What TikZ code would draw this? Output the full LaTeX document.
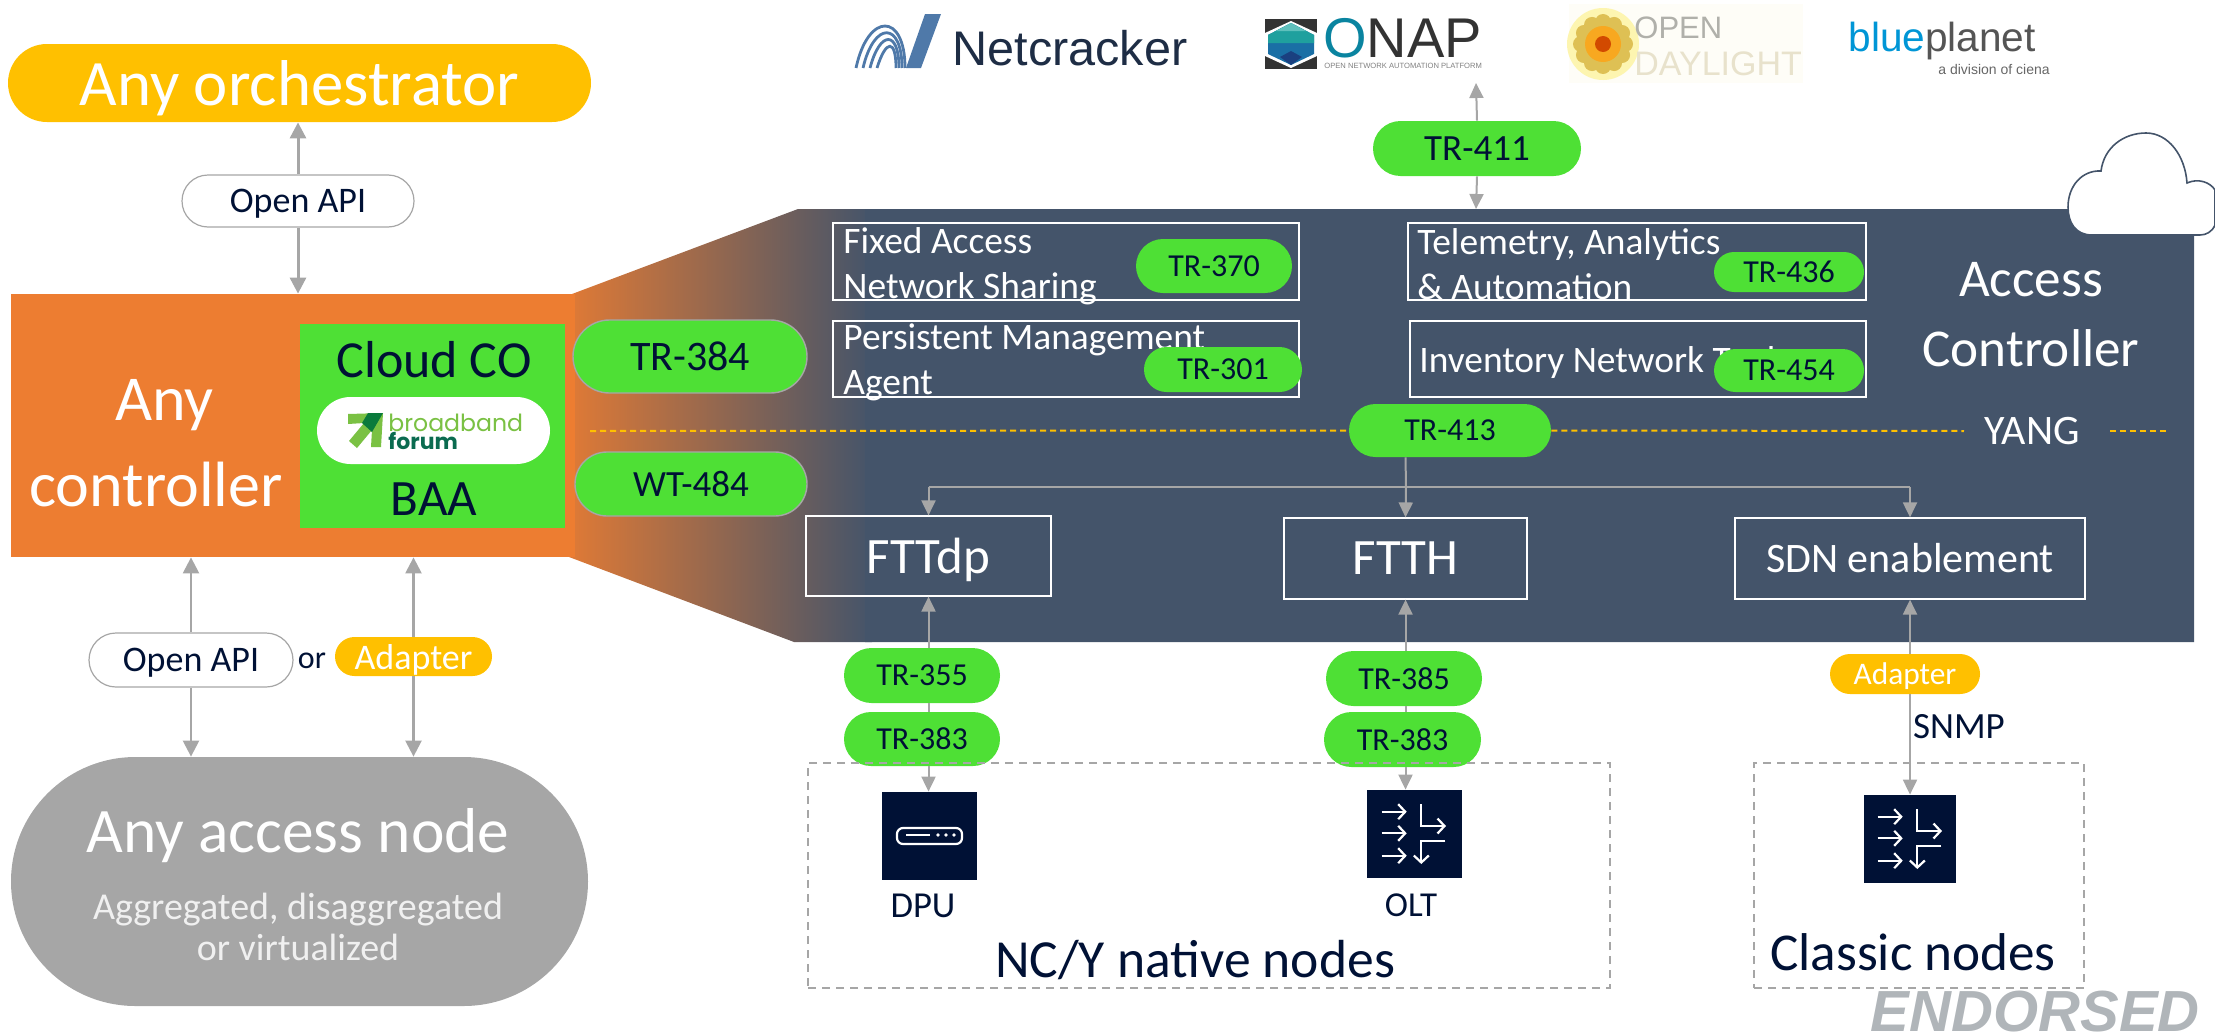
\documentclass[tikz,border=0pt]{standalone}
\usepackage{fontspec}
\setmainfont{Carlito}
\newfontfamily\libsans{Liberation Sans}
\newfontfamily\popsans{Poppins}
\usetikzlibrary{shapes.misc,arrows.meta}
\definecolor{orch}{HTML}{FFC000}
\definecolor{ctrlorange}{HTML}{ED7D31}
\definecolor{slate}{HTML}{44546A}
\definecolor{stdgreen}{HTML}{4EE035}
\definecolor{navy}{HTML}{001135}
\definecolor{midgray}{HTML}{A6A6A6}
\newcommand\fs[1]{\fontsize{#1pt}{1.2\dimexpr#1pt\relax}\selectfont}
% name, x1,y1,x2,y2, style, text
\newcommand\pillnode[7]{\node[rounded rectangle,inner sep=0pt,minimum width={(#4-#2)*0.5},minimum height={(#5-#3)*0.5},#6] (#1) at ({(#2+#4)/2},{(#3+#5)/2}) {#7};}
\newcommand\boxnode[7]{\node[rectangle,inner sep=0pt,minimum width={(#4-#2)*0.5},minimum height={(#5-#3)*0.5},#6] (#1) at ({(#2+#4)/2},{(#3+#5)/2}) {#7};}
\newcommand\routerglyph[1]{\begin{scope}[shift={#1},glyph]
\draw (14.7,21.7) -- (39.7,21.7);
\draw (14.7,43.3) -- (39.7,43.3);
\draw (14.7,65.7) -- (39.7,65.7);
\draw (54.3,14) -- (54.3,36) -- (79,36);
\draw (78.3,50.7) -- (54.3,50.7) -- (54.3,74);
\end{scope}}
\tikzset{
 conn/.style={draw=midgray,line width=1pt,>={Triangle[length=7.5pt,width=7pt]}},
 connw/.style={draw=midgray,line width=1.5pt,>={Triangle[length=8pt,width=8pt]}},
 greenpill/.style={fill=stdgreen,text=navy},
 greenline/.style={fill=stdgreen,text=navy,draw=midgray,line width=0.7pt},
 amberpill/.style={fill=orch,text=white,text depth=0pt},
 apipill/.style={fill=white,draw=midgray,line width=0.6pt,text=navy,text depth=0pt},
 subbox/.style={draw=white,line width=0.6pt},
 lightlabel/.style={text=white,inner sep=0pt},
 darklabel/.style={text=navy,inner sep=0pt},
 dashbox/.style={draw=midgray,line width=1pt,dash pattern=on 4pt off 3pt},
 yangline/.style={draw=orch,line width=1pt,dash pattern=on 3pt off 2pt},
 iconbox/.style={fill=navy},
 glyph/.style={draw=white,line width=1.1pt,->,>={Straight Barb[length=3.5pt,width=7.5pt]}},
}
\begin{document}
\begin{tikzpicture}[x=0.5pt,y=-0.5pt]
\useasboundingbox (0,0) rectangle (2215,1033);

% --- logos -----------------------------------------------------------
\begin{scope}[draw=none]
 \fill[color={rgb,255:red,79;green,121;blue,169}] (925,14) -- (941,14) -- (921,68) -- (906,68) -- cycle;
 \foreach \i in {0,1,2,3}{
  \draw[color={rgb,255:red,79;green,121;blue,169},line width=1.4pt]
   ({856+\i*7},68) .. controls ({868+\i*6},{12+\i*9}) and ({905-\i*3},{12+\i*9}) .. ({905-\i*3},68);
 }
\end{scope}
\node[inner sep=0pt,anchor=base west,text={rgb,255:red,30;green,45;blue,69},font=\libsans\fs{24.3}] (netcracker) at (952,65) {Netcracker};

\fill[color={rgb,255:red,51;green,51;blue,51}] (1265,19) rectangle (1317,69);
\fill[white] (1291,21) -- (1317,33) -- (1317,56) -- (1291,68) -- (1265,56) -- (1265,33) -- cycle;
\fill[color={rgb,255:red,26;green,111;blue,165}] (1291,23) -- (1314,35) -- (1314,54) -- (1291,65) -- (1268,54) -- (1268,35) -- cycle;
\fill[color={rgb,255:red,31;green,160;blue,158}] (1291,23) -- (1314,35) -- (1314,43) -- (1268,43) -- (1268,35) -- cycle;
\fill[color={rgb,255:red,95;green,192;blue,188}] (1291,23) -- (1306,31) -- (1276,31) -- cycle;
\fill[color={rgb,255:red,26;green,64;blue,128}] (1291,65) -- (1280,57) -- (1291,51) -- (1302,57) -- cycle;
\node[inner sep=0pt,anchor=base west,font=\libsans\fs{28},text={rgb,255:red,51;green,51;blue,51}] (onap) at (1323,57) {\textcolor[RGB]{10,132,160}{O}NAP};
\node[inner sep=0pt,anchor=base west,font=\libsans\fs{3.8},text=gray] (onaptag) at (1324,68) {OPEN NETWORK AUTOMATION PLATFORM};

\fill[color={rgb,255:red,254;green,253;blue,247}] (1569,4) rectangle (1803,83);
\fill[color={rgb,255:red,253;green,245;blue,176}] (1603,44) circle[radius=36];
\foreach \a in {0,30,...,330}{\fill[color={rgb,255:red,222;green,192;blue,84}] ({1603+22*cos(\a)},{44+22*sin(\a)}) circle[radius=8];}
\fill[color={rgb,255:red,248;green,168;blue,32}] (1603,44) circle[radius=18];
\fill[color={rgb,255:red,210;green,74;blue,0}] (1603,44) circle[radius=8];
\node[inner sep=0pt,anchor=base west,font=\libsans\fs{15.5},text={rgb,255:red,176;green,176;blue,170}] (odl1) at (1634,39) {OPEN};
\node[inner sep=0pt,anchor=base west,font=\libsans\fs{17},text={rgb,255:red,232;green,226;blue,204}] (odl2) at (1634,75) {DAYLIGHT};

\node[inner sep=0pt,anchor=base west,font=\libsans\fs{20.3},text={rgb,255:red,85;green,85;blue,85}] (blueplanet) at (1848,51) {\textcolor[RGB]{0,150,214}{blue}planet};
\node[inner sep=0pt,anchor=base west,font=\libsans\fs{7},text={rgb,255:red,102;green,102;blue,102}] (ciena) at (1938,74) {a division of ciena};

% --- access controller band with gradient --------------------------------
\begin{scope}
 \clip (572,294) -- (798,209) -- (2194,209) -- (2194,642) -- (794,642) -- (569,557) -- cycle;
 \shade[left color=ctrlorange,right color=slate] (542,200) rectangle (872,650);
 \fill[slate] (865,200) rectangle (2200,650);
\end{scope}
\boxnode{ctrl}{11}{294}{575}{557}{fill=ctrlorange}{}

% cloud
\draw[fill=white,draw=slate,line width=0.8pt] (2092,235) .. controls (2075,235) and (2068,222) .. (2068,207)
 .. controls (2068,186) and (2082,170) .. (2101,171)
 .. controls (2104,147) and (2124,133) .. (2146,133)
 .. controls (2168,133) and (2185,155) .. (2187,183)
 .. controls (2198,178) and (2210,182) .. (2215,190)
 -- (2215,225) .. controls (2212,232) and (2206,235) .. (2200,235) -- cycle;

% --- left column -------------------------------------------------------
\pillnode{orchestrator}{8}{44}{591}{122}{fill=orch,text=white,text depth=0pt,font=\fs{32.4}}{Any orchestrator}
\pillnode{apitop}{182}{175}{414}{227}{apipill,font=\fs{18}}{Open API}
\draw[connw,->] (apitop.north) -- (apitop.north |- orchestrator.south);
\draw[connw,->] (apitop.south) -- (apitop.south |- ctrl.north);

\node[lightlabel,align=center,font=\fs{32},text depth=0pt] (ctrllabel) at (156,443) {\hspace*{8.5pt}Any\\[4.5pt]controller};
\boxnode{baa}{300}{324}{565}{528}{fill=stdgreen}{}
\node[darklabel,anchor=base,font=\fs{26}] (cloudco) at (434,377) {Cloud CO};
\node[darklabel,anchor=base,font=\fs{25.5}] (baalabel) at (434,515) {BAA};
\pillnode{bbfpill}{317}{397}{550}{464}{fill=white}{}
\fill[color={rgb,255:red,122;green,193;blue,67}] (348,414) -- (383,413) -- (381,447) -- (371,447) -- (372,430) -- (357,448) -- (349,441) -- (364,423) -- (348,424) -- cycle;
\fill[color={rgb,255:red,10;green,122;blue,60}] (368,413) -- (383,413) -- (372,432) -- (362,423) -- cycle;
\node[inner sep=0pt,anchor=base west,font=\popsans\fs{11.8},text={rgb,255:red,122;green,193;blue,67}] (bbf1) at (388,431) {broadband};
\node[inner sep=0pt,anchor=base west,font=\popsans\bfseries\fs{11},text={rgb,255:red,11;green,107;blue,80}] (bbf2) at (388,449) {forum};

\pillnode{tr384}{573}{320}{807}{393}{greenline,font=\fs{21}}{TR-384}
\pillnode{wt484}{575}{452}{807}{516}{greenline,font=\fs{18.5}}{WT-484}

\pillnode{apilow}{89}{633}{293}{687}{apipill,font=\fs{18}}{Open API}
\node[darklabel,font=\fs{16}] (ortext) at (312,661) {or};
\pillnode{adapterlow}{335}{637}{492}{676}{amberpill,font=\fs{18}}{Adapter}
\pillnode{accessnode}{11}{757}{588}{1006}{fill=midgray}{}
\node[lightlabel,anchor=base,font=\fs{31.7}] (accesstitle) at (298,852) {Any access node};
\node[lightlabel,align=center,font=\fs{19},text={rgb,255:red,240;green,240;blue,240}] (accesssub) at (298,927) {Aggregated, disaggregated\\[-2pt]or virtualized};
\draw[connw,line width=1.2pt,<-] (apilow.north |- ctrl.south) -- (apilow.north);
\draw[connw,line width=1.2pt,->] (apilow.south) -- (apilow.south |- accessnode.north);
\draw[connw,line width=1.2pt,<-] (adapterlow.north |- ctrl.south) -- (adapterlow.north);
\draw[connw,line width=1.2pt,->] (adapterlow.south) -- (adapterlow.south |- accessnode.north);

% --- top standard -------------------------------------------------------
\coordinate (logoport) at (1476,83);
\coordinate (bandtop) at (1476,209);
\pillnode{tr411}{1373}{121}{1581}{176}{greenpill,font=\fs{18.5}}{TR-411}
\draw[conn,->] (tr411.north) -- (logoport);
\draw[conn,->] (tr411.south) -- (bandtop);

% --- inner boxes --------------------------------------------------------
\boxnode{fixedbox}{833}{223}{1299}{300}{subbox}{}
\node[lightlabel,align=left,anchor=west,font=\fs{18.7}] (fixedtxt) at (843,266) {Fixed Access\\[0pt]Network Sharing};
\pillnode{tr370}{1136}{239}{1292}{293}{greenpill,font=\fs{16}}{TR-370}
\boxnode{telebox}{1408}{223}{1866}{300}{subbox}{}
\node[lightlabel,align=left,anchor=west,font=\fs{18.7}] (teletxt) at (1417,264) {Telemetry, Analytics\\[0pt]\& Automation};
\pillnode{tr436}{1714}{252}{1864}{292}{greenpill,font=\fs{16}}{TR-436}
\boxnode{pmabox}{833}{321}{1299}{397}{subbox}{}
\node[lightlabel,align=left,anchor=west,font=\fs{18.7}] (pmatxt) at (843,362) {Persistent Management\\[0pt]Agent};
\pillnode{tr301}{1144}{347}{1302}{392}{greenpill,font=\fs{16}}{TR-301}
\boxnode{invbox}{1410}{321}{1866}{397}{subbox}{}
\node[lightlabel,anchor=base west,font=\fs{18.7}] (invtxt) at (1419,372) {Inventory Network Tools};
\pillnode{tr454}{1714}{349}{1864}{392}{greenpill,font=\fs{16}}{TR-454}
\node[lightlabel,align=center,font=\fs{26.6}] (aclabel) at (2031,315) {Access\\[3pt]Controller};

% --- YANG line ----------------------------------------------------------
\pillnode{tr413}{1349}{404}{1551}{457}{greenpill,font=\fs{16}}{TR-413}
\node[lightlabel,font=\fs{21}] (yang) at (2032,431) {YANG};
\coordinate (yangleft) at (590,431);
\coordinate (yangright) at (2167,431);
\draw[yangline] (yangleft) -- (tr413.west);
\draw[yangline] (tr413.east) -- ([xshift=-10pt]yang.west);
\draw[yangline] ([xshift=15pt]yang.east) -- (yangright);

% --- technology boxes ----------------------------------------------------
\boxnode{fttdp}{806}{516}{1051}{596}{subbox,text=white,text depth=0pt,font=\fs{25.5}}{FTTdp}
\boxnode{ftth}{1284}{518}{1527}{599}{subbox,text=white,font=\fs{25.5}}{FTTH}
\boxnode{sdn}{1735}{518}{2085}{599}{subbox,text=white,font=\fs{21}}{SDN enablement}
\coordinate (bus) at (1406,487);
\draw[conn] (ftth.north |- tr413.south) -- (bus);
\draw[conn] (fttdp.north |- bus) -- (sdn.north |- bus);
\draw[conn,->] (fttdp.north |- bus) -- (fttdp.north);
\draw[conn,->] (bus) -- (ftth.north);
\draw[conn,->] (sdn.north |- bus) -- (sdn.north);

% --- southbound -----------------------------------------------------------
\pillnode{tr355}{844}{648}{1000}{703}{greenpill,font=\fs{16}}{TR-355}
\pillnode{tr383a}{844}{712}{1000}{766}{greenpill,font=\fs{16}}{TR-383}
\pillnode{tr385}{1326}{651}{1482}{706}{greenpill,font=\fs{16}}{TR-385}
\pillnode{tr383b}{1324}{712}{1481}{767}{greenpill,font=\fs{16}}{TR-383}
\pillnode{adapterr}{1830}{654}{1980}{694}{amberpill,font=\fs{15.7}}{Adapter}
\node[darklabel,font=\fs{18.5}] (snmp) at (1959,727) {SNMP};

\boxnode{dpu}{882}{792}{977}{880}{iconbox}{}
\boxnode{olt}{1367}{790}{1462}{878}{iconbox}{}
\boxnode{classic}{1864}{795}{1956}{883}{iconbox}{}
\draw[white,line width=1.1pt,rounded corners=3pt] (897,828) rectangle (962,844);
\draw[white,line width=1.4pt] (906,835) -- (930,835);
\foreach \dx in {938,946,954}{\fill[white] (\dx,835) circle[radius=1.8];}
\routerglyph{(1367,790)}
\routerglyph{(1863,795)}

\draw[conn,->] (fttdp.south |- tr355.north) -- (fttdp.south);
\draw[conn] (fttdp.south |- tr355.south) -- (fttdp.south |- tr383a.north);
\draw[conn,->] (fttdp.south |- tr383a.south) -- (fttdp.south |- dpu.north);
\draw[conn,->] (ftth.south |- tr385.north) -- (ftth.south);
\draw[conn] (ftth.south |- tr385.south) -- (ftth.south |- tr383b.north);
\draw[conn,->] (ftth.south |- tr383b.south) -- (ftth.south |- olt.north);
\draw[conn,->] (sdn.south |- adapterr.north) -- (sdn.south);
\draw[conn,->] (sdn.south |- adapterr.south) -- (sdn.south |- classic.north);

\boxnode{ncybox}{808}{763}{1610}{988}{dashbox}{}
\boxnode{classicbox}{1754}{763}{2084}{988}{dashbox}{}
\node[darklabel,anchor=base,font=\fs{18.3}] (dpulabel) at (923,917) {DPU};
\node[darklabel,anchor=base,font=\fs{17.5}] (oltlabel) at (1411,916) {OLT};
\node[darklabel,anchor=base,font=\fs{26.8}] (ncylabel) at (1195,977) {NC/Y native nodes};
\node[darklabel,anchor=base,font=\fs{26.6}] (classiclabel) at (1913,970) {Classic nodes};

\node[inner sep=0pt,anchor=base east,font=\libsans\bfseries\itshape\fs{29},text={rgb,255:red,176;green,181;blue,185}] (endorsed) at (2200,1031) {ENDORSED};
\end{tikzpicture}
\end{document}
